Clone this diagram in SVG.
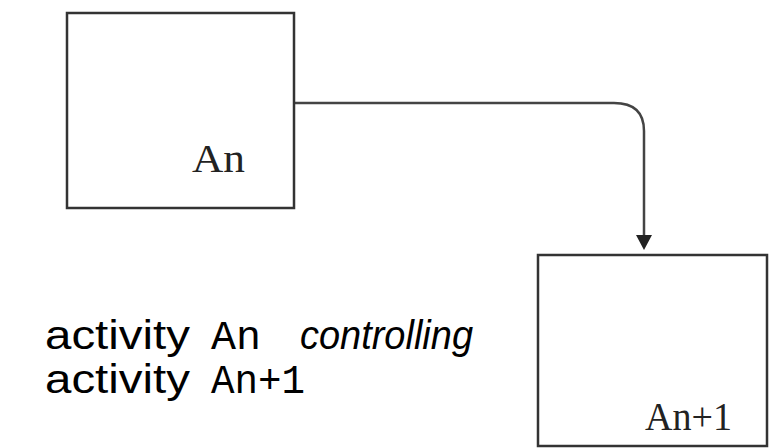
<svg xmlns="http://www.w3.org/2000/svg" width="777" height="448" viewBox="0 0 777 448">
<style>
.box{fill:#fff;stroke:#333;stroke-width:2.5}
.lbl{font-family:"Liberation Serif",serif;font-size:39px;fill:#222}
.conn{fill:none;stroke:#444;stroke-width:2.5}
.cap{font-family:"Liberation Sans",Arial,sans-serif;font-size:41px;fill:#000}
.mono{font-family:"Liberation Mono","Liberation Serif",serif;font-size:40px;fill:#000}
.it{font-style:italic}
</style>
<rect width="777" height="448" fill="#fff"/>
<g id="connectors">
<path class="conn" d="M294,103 H614 Q644,103 644,131 V238"/>
<polygon points="636,235 652,235 644,250" fill="#222"/>
</g>
<g id="nodeAn">
<rect class="box" x="67" y="13" width="227" height="195"/>
<text class="lbl" x="192" y="172" textLength="53" lengthAdjust="spacingAndGlyphs">An</text>
</g>
<g id="nodeAn1">
<rect class="box" x="538" y="255" width="229" height="191"/>
<text class="lbl" x="645" y="430" textLength="87" lengthAdjust="spacingAndGlyphs">An+1</text>
</g>
<g id="caption">
<text class="cap" x="45" y="349" textLength="145" lengthAdjust="spacingAndGlyphs">activity</text>
<text class="mono" x="211" y="349" textLength="50" lengthAdjust="spacingAndGlyphs">An</text>
<text class="cap it" x="300" y="349" textLength="173" lengthAdjust="spacingAndGlyphs">controlling</text>
<text class="cap" x="45" y="393" textLength="145" lengthAdjust="spacingAndGlyphs">activity</text>
<text class="mono" x="211" y="393" textLength="94" lengthAdjust="spacingAndGlyphs">An+1</text>
</g>
</svg>
